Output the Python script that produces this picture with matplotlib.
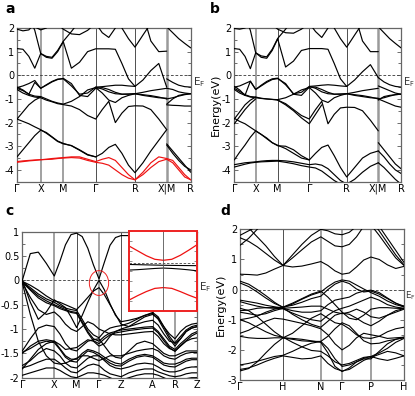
import numpy as np
import matplotlib
matplotlib.use('Agg')
import matplotlib.pyplot as plt
from matplotlib.patches import Ellipse
from matplotlib.ticker import MultipleLocator
import matplotlib.transforms as mtransforms

nan = np.nan
plt.rcParams['font.family'] = ['DejaVu Sans']
plt.rcParams['axes.unicode_minus'] = False

# ---------------- k-paths ----------------
A_TICKS = [0, 23.7, 46.3, 78.7, 118.0, 149.7, 173.7]
A_LABELS = ['Γ', 'X', 'M', 'Γ', 'R', 'X|M', 'R']
A_DIVS = [4, 4, 4, 6, 4, 4]
B_TICKS = [0, 21.4, 43.4, 75.0, 112.4, 144.0, 166.7]
B_LABELS = A_LABELS
C_TICKS = [0, 32.0, 54.3, 76.7, 98.7, 130.3, 152.7, 175.0]
C_LABELS = ['Γ', 'X', 'M', 'Γ', 'Z', 'A', 'R', 'Z']
C_DIVS = [4, 4, 4, 4, 4, 4, 4]
D_TICKS = [0, 43.3, 81.3, 102.7, 131.7, 165.0]
D_LABELS = ['Γ', 'H', 'N', 'Γ', 'P', 'H']
D_DIVS = [5, 4, 3, 4, 4]

# ---------------- panel a bands (ΓX | XM | MΓ | ΓR | RX || MR) ----------------
a_c1 = [1.13, 1.10, 0.80, 0.30, 0.92, 0.76, 0.72, 1.00, 1.42, 0.30, 0.55, 1.00, 1.12,
        1.12, 1.12, 1.10, 0.50, -0.15, -0.47, -0.20, 0.20, 0.50, -0.50,
        -0.15, -0.30, -0.42, -0.48, -0.50]
a_c2 = [3.0, 2.8, 2.5, 1.9, 0.92, 0.80, 0.76, 1.05, 1.44, 1.85, 2.30, nan, nan,
        nan, nan, nan, nan, nan, nan, 2.60, 1.45, 1.00, 1.02,
        2.05, 1.80, 1.55, 1.35, 1.16]
a_c3 = [1.95, 1.88, 1.92, 2.20, nan, nan, nan, 2.15, 1.95, 1.75, 1.72, 1.90, 2.20,
        1.80, 1.60, 2.00, 2.40, nan, nan, nan, nan, nan, nan,
        nan, nan, nan, nan, nan]
a_c4 = [nan, nan, nan, nan, nan, nan, nan, nan, nan, nan, nan, nan, nan,
        nan, nan, 2.60, 2.00, 1.55, 1.19, 1.70, 2.20, nan, nan,
        nan, nan, nan, nan, nan]
a_c5 = [nan, nan, 2.40, 2.05, 1.92, 2.00, 2.30, nan, nan, nan, nan, nan, nan,
        nan, nan, nan, nan, nan, nan, nan, nan, nan, nan,
        nan, nan, nan, nan, nan]
a_v1 = [-0.50, -0.62, -0.80, -0.30, -0.55, -0.40, -0.26, -0.16, -0.15, -0.45, -0.80, -0.75, -0.50,
        -0.58, -0.70, -0.78, -0.80, -0.79, -0.78, -0.72, -0.65, -0.60, -0.55,
        -0.55, -0.60, -0.70, -0.75, -0.78]
a_v2 = [-0.52, -0.45, -0.35, -0.22, -0.55, -0.42, -0.28, -0.18, -0.13, -0.35, -0.85, -0.90, -0.55,
        -0.52, -0.60, -0.72, -0.80, -0.80, -0.78, -0.85, -0.90, -0.95, -0.97,
        -1.22, -1.00, -0.85, -0.80, -0.78]
a_v3 = [-0.55, -0.65, -0.80, -0.88, -0.90, -1.00, -1.10, -1.17, -1.22, -1.10, -0.90, -0.62, -0.52,
        -0.75, -1.05, -1.15, -0.95, -0.85, -0.78, -0.82, -0.86, -0.92, -1.00,
        -1.00, -0.95, -0.88, -0.82, -0.78]
a_v4 = [-0.60, -0.75, -0.85, -0.92, -0.95, -1.05, -1.12, -1.20, -1.24, -1.30, -1.45, -1.70, -1.85,
        -1.45, -1.10, -2.00, -1.60, -1.32, -1.29, -1.30, -1.45, -1.85, -2.30,
        -1.25, -1.27, -1.28, -1.30, -1.30]
a_v5 = [-1.85, -1.55, -1.25, -1.05, -0.92, nan, nan, nan, nan, nan, nan, nan, -0.50,
        -0.48, -0.45, -0.42, -0.42, -0.45, -0.47, nan, nan, nan, nan,
        nan, nan, nan, nan, nan]
a_v6 = [-1.85, -1.95, -2.05, -2.18, -2.30, -2.45, -2.62, -2.80, -2.90, -2.97, -3.15, -3.35, -3.45,
        -3.30, -3.05, -2.92, -3.30, -3.80, -4.12, -3.70, -3.20, -2.75, -2.30,
        -2.90, -3.20, -3.50, -3.80, -4.10]
a_v7 = [-3.45, -3.15, -2.85, -2.55, -2.32, -2.42, -2.60, -2.78, -2.88, -2.98, -3.17, -3.37, -3.45,
        nan, nan, nan, nan, nan, nan, nan, nan, nan, nan,
        -2.95, -3.30, -3.60, -3.85, -4.00]
a_r1 = [-3.65, -3.62, -3.60, -3.58, -3.57, -3.55, -3.52, -3.50, -3.48, -3.45, -3.45, -3.55, -3.65,
        -3.55, -3.48, -3.60, -3.90, -4.20, -4.42, -4.10, -3.70, -3.45, -3.52,
        -3.52, -3.60, -3.90, -4.20, -4.42]
a_r2 = [-3.68, -3.65, -3.62, -3.60, -3.57, -3.56, -3.55, -3.52, -3.50, -3.48, -3.50, -3.60, -3.68,
        -3.72, -3.80, -4.00, -4.20, -4.35, -4.42, -4.20, -3.90, -3.65, -3.55,
        -3.55, -3.70, -4.00, -4.30, -4.42]

# ---------------- panel b bands ----------------
b_c1 = [1.13, 1.10, 0.80, 0.28, 0.95, 0.76, 0.72, 1.05, 1.54, 0.35, 0.60, 1.05, 1.13,
        1.13, 1.13, 1.10, 0.50, -0.15, -0.47, -0.20, 0.15, 0.45, -0.10,
        -0.10, -0.28, -0.40, -0.47, -0.50]
b_c2 = [3.0, 2.8, 2.5, 1.9, 0.95, 0.82, 0.78, 1.10, 1.56, 1.95, 2.40, nan, nan,
        nan, nan, nan, nan, nan, nan, 2.60, 1.45, 1.00, 1.00,
        2.05, 1.80, 1.55, 1.35, 1.16]
b_c3 = [1.98, 1.95, 2.00, 2.20, nan, nan, nan, 2.15, 1.95, 1.80, 1.78, 1.95, 2.20,
        1.85, 1.60, 2.00, 2.40, nan, nan, nan, nan, nan, nan,
        nan, nan, nan, nan, nan]
b_c4 = [nan, nan, nan, nan, nan, nan, nan, nan, nan, nan, nan, nan, nan,
        nan, nan, 2.60, 2.00, 1.55, 1.19, 1.70, 2.20, nan, nan,
        nan, nan, nan, nan, nan]
b_v1 = [-0.47, -0.62, -0.85, -0.25, -0.60, -0.42, -0.26, -0.15, -0.12, -0.40, -0.78, -0.72, -0.47,
        -0.55, -0.70, -0.78, -0.80, -0.79, -0.78, -0.72, -0.65, -0.60, -0.55,
        -0.45, -0.55, -0.65, -0.75, -0.80]
b_v2 = [-0.50, -0.45, -0.35, -0.25, -0.60, -0.45, -0.30, -0.18, -0.14, -0.35, -0.80, -0.85, -0.50,
        -0.50, -0.60, -0.72, -0.80, -0.80, -0.78, -0.85, -0.90, -0.95, -0.97,
        -1.00, -0.95, -0.88, -0.82, -0.80]
b_v3 = [-0.55, -0.68, -0.82, -0.90, -0.92, -0.97, -1.00, -1.02, -1.03, -0.95, -0.80, -0.62, -0.52,
        -0.75, -1.05, -1.15, -0.95, -0.85, -0.78, -0.82, -0.86, -0.92, -1.00,
        -1.05, -0.90, -0.85, -0.82, -0.80]
b_v4 = [-0.60, -0.75, -0.85, -0.92, -0.95, -0.98, -1.00, -1.02, -1.05, -1.20, -1.45, -1.70, -1.85,
        -1.45, -1.10, -2.05, -1.65, -1.38, -1.35, -1.36, -1.50, -1.90, -2.35,
        -1.00, -1.10, -1.20, -1.30, -1.35]
b_v5 = [-1.85, -1.55, -1.25, -1.05, -0.92, nan, nan, nan, nan, nan, nan, nan, -0.47,
        -0.45, -0.42, -0.40, -0.42, -0.45, -0.47, nan, nan, nan, nan,
        nan, nan, nan, nan, nan]
b_v6 = [-2.05, -1.75, -1.45, -1.20, -1.00, nan, nan, nan, -1.05, -1.25, -1.50, -1.80, -2.05,
        -1.65, -1.25, nan, nan, nan, nan, nan, nan, nan, nan,
        nan, nan, nan, nan, nan]
b_v7 = [-1.82, -1.95, -2.05, -2.20, -2.35, -2.50, -2.65, -2.85, -2.98, -3.00, -3.15, -3.40, -3.58,
        -3.30, -3.05, -2.95, -3.40, -3.90, -4.30, -3.90, -3.50, -3.30, -3.20,
        -2.85, -3.15, -3.45, -3.75, -3.95]
b_v8 = [-3.58, -3.25, -2.95, -2.62, -2.35, -2.50, -2.68, -2.85, -2.96, -3.10, -3.30, -3.50, -3.58,
        nan, nan, nan, nan, nan, nan, nan, nan, nan, nan,
        -3.20, -3.45, -3.75, -4.00, -4.15]
b_v9 = [-3.78, -3.74, -3.70, -3.68, -3.66, -3.63, -3.61, -3.60, -3.60, -3.62, -3.66, -3.72, -3.78,
        -3.75, -3.80, -3.95, -4.20, -4.45, -4.60, -4.40, -4.10, -3.85, -3.70,
        -3.70, -3.90, -4.15, -4.40, -4.60]
b_v10 = [-3.88, -3.82, -3.76, -3.71, -3.68, -3.66, -3.65, -3.64, -3.63, -3.68, -3.74, -3.82, -3.88,
         -3.92, -4.05, -4.25, -4.45, -4.60, -4.70, nan, nan, nan, nan,
         nan, nan, nan, nan, nan]

# ---------------- panel c bands (ΓX|XM|MΓ|ΓZ|ZA|AR|RZ) ----------------
c01 = [0.00, 0.55, 0.58, 0.35, 0.09, 0.39, 0.73, 0.94, 0.97, 0.90, 0.66, 0.32, 0.03,
       0.38, 0.72, 0.88, 0.92, 0.92, 0.92, 0.92, 0.92, 0.92, 0.92, 0.92, 0.92, 0.92, 0.92, 0.92, 0.92]
c02 = [0.00, -0.45, -0.80, -0.65, -0.40, -0.48, -0.56, -0.75, -0.97, -0.72, -0.45, -0.20, 0.00,
       -0.20, -0.48, -0.72, -0.85, -0.82, -0.78, -0.72, -0.66, -0.75, -0.95, -1.10, -1.20, -1.05, -0.95, -0.90, -0.88]
c03 = [-0.02, -0.10, -0.20, -0.32, -0.42, -0.45, -0.50, -0.55, -0.60, -0.48, -0.35, -0.22, -0.15,
       -0.30, -0.50, -0.70, -0.90, -0.95, -0.85, -0.75, -0.70, -0.78, -0.95, -1.15, -1.30, -1.20, -1.05, -0.98, -0.95]
c04 = [-0.02, -0.15, -0.28, -0.38, -0.45, -0.52, -0.57, -0.60, -0.62, -0.80, -1.00, -1.12, -1.18,
       -1.05, -0.98, -0.95, -0.93, -0.88, -0.80, -0.72, -0.68, -0.80, -1.00, -1.20, -1.35, -1.20, -1.05, -0.98, -0.95]
c05 = [-0.03, -0.18, -0.32, -0.42, -0.50, -0.55, -0.60, -0.64, -0.66, -0.85, -1.05, -1.20, -1.25,
       -1.15, -1.08, -1.05, -1.02, -1.00, -0.98, -0.96, -0.95, -1.05, -1.20, -1.35, -1.42, -1.30, -1.20, -1.10, -1.05]
c06 = [-0.05, -0.35, -0.60, -0.70, -0.65, -0.75, -0.90, -1.00, -1.05, -0.95, -0.85, -0.90, -1.00,
       -1.05, -1.10, -1.12, -1.12, -1.10, -1.08, -1.06, -1.05, -1.15, -1.30, -1.40, -1.45, -1.35, -1.25, -1.20, -1.18]
c07 = [-1.45, -1.20, -0.98, -0.92, -0.95, -1.10, -1.30, -1.42, -1.45, -1.35, -1.25, -1.22, -1.20,
       -1.35, -1.50, -1.58, -1.60, -1.45, -1.30, -1.25, -1.30, -1.40, -1.50, -1.55, -1.55, -1.50, -1.45, -1.45, -1.45]
c08 = [-1.50, -1.35, -1.25, -1.22, -1.25, -1.40, -1.55, -1.62, -1.62, -1.50, -1.42, -1.45, -1.50,
       -1.58, -1.65, -1.70, -1.72, -1.62, -1.55, -1.52, -1.55, -1.62, -1.70, -1.72, -1.72, -1.68, -1.62, -1.60, -1.60]
c09 = [-1.75, -1.65, -1.50, -1.40, -1.45, -1.55, -1.70, -1.78, -1.80, -1.70, -1.60, -1.55, -1.55,
       -1.65, -1.75, -1.80, -1.82, -1.78, -1.72, -1.70, -1.72, -1.78, -1.85, -1.88, -1.88, -1.85, -1.80, -1.78, -1.78]
c10 = [-1.80, -1.75, -1.68, -1.62, -1.62, -1.70, -1.80, -1.88, -1.90, -1.82, -1.75, -1.72, -1.75,
       -1.85, -1.92, -1.95, -1.98, -1.90, -1.85, -1.82, -1.82, -1.88, -1.92, -1.96, -1.98, -1.96, -1.92, -1.90, -1.90]
c11 = [-0.05, -0.70, -1.25, -1.55, -1.70, -1.72, -1.70, -1.65, -1.60, -1.55, -1.55, -1.60, -1.65,
       -1.60, -1.55, -1.55, -1.55, -1.50, -1.45, -1.42, -1.40, -1.45, -1.55, -1.60, -1.62, -1.55, -1.50, -1.48, -1.48]
c12 = [-1.95, -1.90, -1.85, -1.80, -1.80, -1.85, -1.92, -1.98, -2.00, -1.95, -1.90, -1.90, -1.92,
       -1.95, -2.00, -2.05, -2.05, -2.00, -1.95, -1.92, -1.92, -1.95, -2.00, -2.05, -2.05, -2.05, -2.02, -2.00, -2.00]
c13 = [-1.82, -1.62, -1.42, -1.30, -1.25, -1.32, -1.42, -1.40, -1.38, -1.30, -1.22, -1.25, -1.35,
       -1.30, -1.15, -1.05, -1.00, -0.95, -0.90, -0.85, -0.82, -0.92, -1.10, -1.25, -1.28, -1.15, -1.02, -0.95, -0.92]
c14 = [-1.48, -1.40, -1.30, -1.25, -1.28, -1.42, -1.58, -1.66, -1.68, -1.55, -1.45, -1.48, -1.55,
       -1.62, -1.70, -1.75, -1.76, -1.66, -1.58, -1.55, -1.58, -1.66, -1.74, -1.77, -1.78, -1.72, -1.66, -1.63, -1.63]
c15 = [-0.04, -0.20, -0.36, -0.46, -0.52, -0.58, -0.62, -0.66, -0.68, -0.88, -1.08, -1.24, -1.30,
       -1.20, -1.12, -1.08, -1.06, -1.03, -1.01, -0.99, -0.98, -1.08, -1.24, -1.38, -1.46, -1.34, -1.24, -1.14, -1.08]

# inset of panel c (zoom around Γ, arbitrary units)
INSET_K = [-1, -0.75, -0.5, -0.25, 0, 0.25, 0.5, 0.75, 1]
ins_red_up = [0.62, 0.50, 0.38, 0.29, 0.265, 0.29, 0.39, 0.52, 0.66]
ins_red_dn = [-0.73, -0.62, -0.52, -0.44, -0.42, -0.44, -0.52, -0.61, -0.69]
ins_blk1 = [0.16, 0.155, 0.15, 0.145, 0.14, 0.137, 0.134, 0.132, 0.13]
ins_blk2 = [0.02, 0.03, 0.045, 0.06, 0.07, 0.06, 0.045, 0.025, 0.0]
INSET_EF = 0.198

# ---------------- panel d bands (ΓH|HN|NΓ|ΓP|PH) ----------------
d01 = [0.51, 0.50, 0.48, 0.55, 0.68, 0.80, 0.75, 0.78, 0.85, 0.93, 0.80, 0.62, 0.51, 0.55, 0.75, 0.98, 1.08, 1.00, 0.82, 0.70, 0.77]
d02 = [1.72, 1.60, 1.42, 1.20, 0.98, 0.80, 1.05, 1.32, 1.58, 1.75, 1.60, 1.45, 1.42, 1.50, 1.75, 2.10, nan, nan, nan, nan, nan]
d03 = [1.47, 1.70, 2.00, 2.30, nan, nan, nan, nan, nan, nan, nan, nan, nan, nan, nan, nan, nan, nan, nan, nan, nan]
d04 = [2.30, 2.05, 1.75, 1.45, 1.10, 0.80, 1.15, 1.50, 1.80, 2.00, 1.95, 1.85, 1.82, 1.90, 2.10, nan, nan, nan, nan, nan, nan]
d05 = [nan, nan, nan, nan, nan, nan, nan, nan, nan, nan, nan, nan, nan, nan, nan, nan, 2.15, 1.80, 1.42, 1.05, 0.80]
d06 = [nan, nan, nan, nan, nan, nan, nan, nan, nan, nan, nan, nan, nan, nan, nan, nan, 2.30, 1.95, 1.55, 1.15, 0.82]
d07 = [nan, nan, nan, nan, nan, nan, nan, nan, nan, nan, nan, nan, nan, nan, nan, nan, 2.45, 2.10, 1.70, 1.30, 0.90]
d08 = [1.80, 1.95, 2.10, nan, nan, nan, nan, nan, nan, nan, nan, nan, nan, nan, nan, nan, nan, nan, nan, nan, nan]
d10 = [0.28, 0.18, 0.00, -0.20, -0.42, -0.60, -0.48, -0.32, -0.18, -0.08, 0.10, 0.25, 0.32, 0.28, 0.15, 0.02, -0.10, -0.22, -0.38, -0.50, -0.57]
d11 = [0.22, 0.10, -0.08, -0.28, -0.46, -0.58, -0.52, -0.42, -0.30, -0.22, 0.00, 0.18, 0.28, 0.20, 0.02, -0.08, -0.05, -0.15, -0.30, -0.45, -0.55]
d12 = [-0.35, -0.40, -0.45, -0.52, -0.57, -0.62, -0.70, -0.75, -0.75, -0.70, -0.50, -0.35, -0.30, -0.25, -0.12, -0.05, -0.02, -0.10, -0.28, -0.45, -0.58]
d13 = [-0.40, -0.48, -0.55, -0.60, -0.62, -0.64, -0.78, -0.90, -1.00, -1.05, -0.85, -0.70, -0.62, -0.55, -0.45, -0.35, -0.25, -0.35, -0.50, -0.58, -0.62]
d14 = [-0.70, -0.68, -0.62, -0.60, -0.60, -0.58, -0.45, -0.30, -0.15, -0.05, -0.25, -0.50, -0.75, -0.95, -1.00, -0.85, -0.65, -0.60, -0.60, -0.62, -0.63]
d15 = [-0.75, -0.80, -0.85, -0.80, -0.70, -0.62, -0.60, -0.58, -0.55, -0.55, -0.65, -0.75, -0.80, -0.75, -0.65, -0.75, -0.90, -0.95, -0.85, -0.75, -0.65]
d16 = [-1.00, -0.95, -0.88, -0.75, -0.65, -0.60, -0.82, -1.00, -1.15, -1.25, -1.05, -0.85, -0.78, -0.82, -0.95, -1.10, -1.20, -1.05, -0.85, -0.70, -0.63]
d17 = [-0.62, -0.70, -0.90, -1.15, -1.40, -1.60, -1.45, -1.20, -0.95, -0.80, -0.95, -1.10, -1.15, -1.30, -1.50, -1.60, -1.62, -1.55, -1.40, -1.30, -1.25]
d18 = [-1.45, -1.35, -1.20, -1.05, -0.95, -0.98, -1.05, -1.12, -1.20, -1.30, -1.50, -1.80, -2.00, -1.85, -1.60, -1.45, -1.50, -1.55, -1.62, -1.60, -1.58]
d19 = [-1.55, -1.60, -1.62, -1.62, -1.60, -1.60, -1.65, -1.70, -1.72, -1.72, -1.55, -1.30, -1.10, -1.20, -1.45, -1.70, -1.80, -1.78, -1.70, -1.65, -1.60]
d20 = [-1.00, -1.10, -1.25, -1.40, -1.52, -1.58, -1.75, -1.90, -2.02, -2.05, -2.20, -2.40, -2.50, -2.45, -2.35, -2.25, -2.22, -2.10, -1.95, -1.75, -1.62]
d21 = [-2.50, -2.45, -2.38, -2.30, -2.22, -2.18, -2.05, -1.90, -1.78, -1.72, -1.95, -2.30, -2.55, -2.50, -2.40, -2.28, -2.22, -2.30, -2.35, -2.28, -2.20]
d22 = [-2.65, -2.60, -2.50, -2.38, -2.28, -2.20, -2.25, -2.30, -2.28, -2.20, -2.45, -2.62, -2.70, -2.65, -2.50, -2.35, -2.25, -2.15, -2.05, -2.10, -2.20]
d23 = [-2.70, -2.62, -2.40, -2.10, -1.82, -1.60, -1.62, -1.65, -1.70, -1.75, -2.10, -2.55, -2.72, -2.60, -2.40, -2.30, -2.30, -2.05, -1.80, -1.65, -1.58]

A_BLACK = [a_c1, a_c2, a_c3, a_c4, a_c5, a_v1, a_v2, a_v3, a_v4, a_v5, a_v6, a_v7]
A_RED = [a_r1, a_r2]
B_BLACK = [b_c1, b_c2, b_c3, b_c4, b_v1, b_v2, b_v3, b_v4, b_v5, b_v6, b_v7, b_v8, b_v9, b_v10]
C_BLACK = [c01, c02, c03, c04, c05, c06, c07, c08, c09, c10, c11, c12, c13, c14, c15]
D_BLACK = [d01, d02, d03, d04, d05, d06, d07, d08, d10, d11, d12, d13, d14, d15, d16,
           d17, d18, d19, d20, d21, d22, d23]


def kgrid(ticks, divs, brk=None):
    pts = []
    for i, n in enumerate(divs):
        seg = np.linspace(ticks[i], ticks[i + 1], n + 1)
        pts.extend(seg if (i == 0 or i == brk) else seg[1:])
    return np.array(pts)


def draw(ax, k, bands, color, lw=0.85, split=None):
    for b in bands:
        b = np.asarray(b, float)
        parts = [(k, b)] if split is None else [(k[:split], b[:split]), (k[split:], b[split:])]
        for kk, bb in parts:
            ax.plot(kk, bb, color=color, lw=lw, zorder=3, solid_capstyle='round')


GRAY = ('#9a9a9a', 1.3)
DARK = ('#333333', 0.6)


def style(ax, ticks, labels, ylim, yticks, minor, vstyles, ylab=False, ef_size=7.5):
    ax.set_xlim(ticks[0], ticks[-1])
    ax.set_ylim(*ylim)
    ax.set_xticks(ticks)
    ax.set_xticklabels(labels, fontsize=7)
    ax.tick_params(axis='x', length=0, pad=1.5)
    ax.set_yticks(yticks)
    ax.set_yticklabels([('%g' % v) for v in yticks])
    ax.yaxis.set_minor_locator(MultipleLocator(minor))
    ax.tick_params(axis='y', which='both', direction='in', left=True, right=True,
                   labelsize=7, pad=2, width=0.6, colors='#555555', labelcolor='black')
    ax.tick_params(axis='y', which='major', length=3)
    ax.tick_params(axis='y', which='minor', length=2)
    for t, (c, lw) in zip(ticks[1:-1], vstyles):
        ax.axvline(t, color=c, lw=lw, zorder=1)
    ax.axhline(0, color='#444444', lw=0.65, ls=(0, (3, 2)), zorder=2)
    for s in ax.spines.values():
        s.set_color('#666666')
        s.set_linewidth(0.9)
    tr = mtransforms.blended_transform_factory(ax.transAxes, ax.transData)
    ax.text(1.012, 0, r'E$_\mathregular{F}$', transform=tr, fontsize=ef_size, color='#333333',
            ha='left', va='top')
    if ylab:
        ax.set_ylabel('Energy(eV)', fontsize=8, labelpad=1)


fig = plt.figure(figsize=(4.15, 3.96), dpi=100)
W, H = 415.0, 396.0


def axes_px(x0, x1, y0, y1):
    return fig.add_axes([x0 / W, 1 - y1 / H, (x1 - x0) / W, (y1 - y0) / H])


# panel a
axa = axes_px(17, 190.7, 28, 181.7)
ka = kgrid(A_TICKS, A_DIVS, brk=5)
draw(axa, ka, A_BLACK, 'black', split=23)
draw(axa, ka, A_RED, '#ee1111', split=23)
style(axa, A_TICKS, A_LABELS, (-4.5, 2), [2, 1, 0, -1, -2, -3, -4], 0.5,
      [GRAY, GRAY, DARK, DARK, (GRAY[0], 1.8)])

# panel b
axb = axes_px(234.3, 401, 28, 181.7)
kb = kgrid(B_TICKS, A_DIVS, brk=5)
draw(axb, kb, B_BLACK, 'black', split=23)
style(axb, B_TICKS, B_LABELS, (-4.5, 2), [2, 1, 0, -1, -2, -3, -4], 0.5,
      [GRAY, DARK, DARK, DARK, (GRAY[0], 1.8)], ylab=True, ef_size=7)

# panel c
axc = axes_px(22.3, 197.3, 231.7, 377.7)
kc = kgrid(C_TICKS, C_DIVS)
draw(axc, kc, C_BLACK, 'black')
style(axc, C_TICKS, C_LABELS, (-2, 1), [1, 0.5, 0, -0.5, -1, -1.5, -2], 0.25,
      [GRAY, DARK, GRAY, DARK, DARK, GRAY])
axc.add_patch(Ellipse((C_TICKS[3], -0.055), 19.3, 0.51, fill=False, ec='#ee2222', lw=0.7, zorder=5))

# inset of c
axi = axes_px(129.3, 197.3, 231.0, 310.7)
axi.set_facecolor('white')
axi.plot(INSET_K, ins_red_up, color='#ee1111', lw=0.9)
axi.plot(INSET_K, ins_red_dn, color='#ee1111', lw=0.9)
axi.plot(INSET_K, ins_blk1, color='black', lw=0.8)
axi.plot(INSET_K, ins_blk2, color='black', lw=0.8)
axi.axhline(INSET_EF, color='#444444', lw=0.6, ls=(0, (3, 2)))
axi.axvline(0, color='#555555', lw=0.6)
axi.set_xlim(-1, 1)
axi.set_ylim(-1, 1)
axi.set_xticks([])
axi.yaxis.set_major_locator(MultipleLocator(0.25))
axi.tick_params(axis='y', direction='in', left=True, right=True, length=2, width=0.5,
                labelleft=False, colors='#666666')
for s in axi.spines.values():
    s.set_color('#ee2222')
    s.set_linewidth(1.4)

# panel d
axd = axes_px(240, 404, 229.3, 380)
kd = kgrid(D_TICKS, D_DIVS)
draw(axd, kd, D_BLACK, 'black', lw=0.8)
style(axd, D_TICKS, D_LABELS, (-3, 2), [2, 1, 0, -1, -2, -3], 0.5,
      [DARK, GRAY, GRAY, GRAY], ylab=True, ef_size=6.2)
for t in axd.texts:
    t.set_x(1.004)

for lbl, x, y in [('a', 5, 13), ('b', 210, 13), ('c', 5, 215), ('d', 220, 215)]:
    fig.text(x / W, 1 - y / H, lbl, fontsize=10, fontweight='bold', ha='left', va='baseline')

fig.savefig('out.png', dpi=100)
